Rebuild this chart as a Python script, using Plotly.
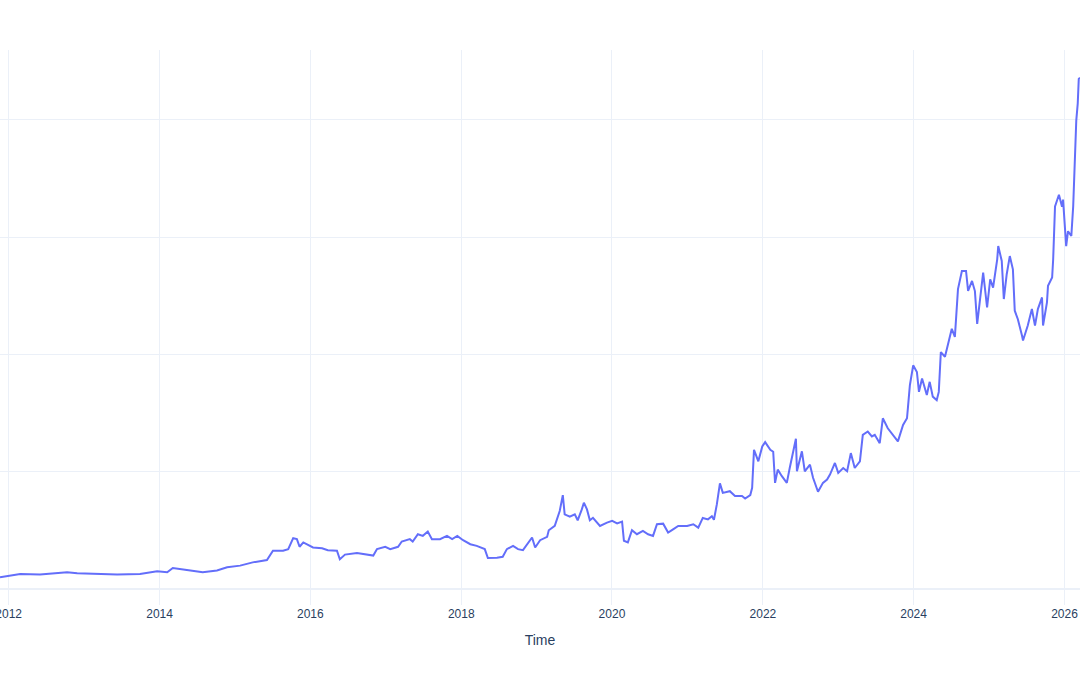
import plotly.graph_objects as go

dates = [
    "2011-11-20", "2012-01-08", "2012-02-26", "2012-06-01", "2012-10-10", "2012-11-28",
    "2013-03-18", "2013-06-09", "2013-09-28", "2013-12-20",
    "2014-02-07", "2014-03-06", "2014-05-13", "2014-07-29", "2014-10-06", "2014-11-24",
    "2015-01-26", "2015-03-28", "2015-06-05", "2015-07-04", "2015-08-22", "2015-09-16",
    "2015-10-10", "2015-10-28", "2015-11-10", "2015-11-28",
    "2016-01-14", "2016-02-27", "2016-03-26", "2016-05-09", "2016-05-23", "2016-06-17",
    "2016-08-14", "2016-10-02", "2016-11-01", "2016-11-19", "2016-12-29",
    "2017-01-22", "2017-03-01", "2017-03-19", "2017-04-27", "2017-05-11", "2017-06-05",
    "2017-06-29", "2017-07-23", "2017-08-12", "2017-09-20", "2017-10-24", "2017-11-18",
    "2017-12-13",
    "2018-01-10", "2018-02-14", "2018-03-17", "2018-04-25", "2018-05-10", "2018-06-23",
    "2018-07-21", "2018-08-10", "2018-09-09", "2018-10-03", "2018-10-27", "2018-12-10",
    "2018-12-25",
    "2019-01-18", "2019-02-21", "2019-03-01", "2019-03-30", "2019-04-23", "2019-05-08",
    "2019-05-17", "2019-06-11", "2019-07-05", "2019-07-19", "2019-08-08", "2019-08-18",
    "2019-09-02", "2019-09-16", "2019-10-01", "2019-11-04", "2019-12-08",
    "2020-01-02", "2020-01-26", "2020-02-19", "2020-02-28", "2020-03-18", "2020-04-07",
    "2020-05-01", "2020-05-30", "2020-06-24", "2020-07-18", "2020-08-06", "2020-09-05",
    "2020-09-29", "2020-10-23", "2020-11-17", "2020-12-30",
    "2021-01-29", "2021-02-22", "2021-03-16", "2021-04-10", "2021-04-29", "2021-05-09",
    "2021-05-23", "2021-06-07", "2021-06-21", "2021-07-25", "2021-08-19", "2021-09-22",
    "2021-10-07", "2021-11-01", "2021-11-10", "2021-11-19", "2021-12-10", "2021-12-29",
    "2022-01-12", "2022-02-06", "2022-02-20", "2022-03-01", "2022-03-14", "2022-04-03",
    "2022-04-27", "2022-05-11", "2022-05-26", "2022-06-10", "2022-06-15", "2022-07-09",
    "2022-07-23", "2022-08-17", "2022-09-01", "2022-09-25", "2022-10-19", "2022-11-08",
    "2022-11-22", "2022-12-16",
    "2023-01-01", "2023-01-25", "2023-02-13", "2023-03-03", "2023-03-22", "2023-04-16",
    "2023-04-30", "2023-05-24", "2023-06-13", "2023-06-27", "2023-07-21", "2023-08-05",
    "2023-08-29", "2023-09-23", "2023-10-17", "2023-11-11", "2023-11-30", "2023-12-05",
    "2023-12-14", "2023-12-30",
    "2024-01-17", "2024-01-27", "2024-02-11", "2024-03-05", "2024-03-19", "2024-04-03",
    "2024-04-22", "2024-05-02", "2024-05-12", "2024-06-01", "2024-06-15", "2024-07-04",
    "2024-07-19", "2024-08-03", "2024-08-22", "2024-09-11", "2024-09-21", "2024-10-10",
    "2024-10-24", "2024-11-04", "2024-11-18", "2024-12-03", "2024-12-22",
    "2025-01-06", "2025-01-20", "2025-02-09", "2025-02-14", "2025-03-03", "2025-03-13",
    "2025-03-27", "2025-04-11", "2025-04-26", "2025-05-05", "2025-05-20", "2025-06-09",
    "2025-06-14", "2025-07-07", "2025-07-27", "2025-08-11", "2025-08-25", "2025-09-14",
    "2025-09-19", "2025-10-08", "2025-10-13", "2025-11-02", "2025-11-07", "2025-11-16",
    "2025-12-05", "2025-12-20", "2025-12-25",
    "2026-01-09", "2026-01-18", "2026-02-03", "2026-02-12", "2026-02-27", "2026-03-06",
    "2026-03-11", "2026-03-17",
]

values = [
    0.99, 1.13, 1.27, 1.22, 1.41, 1.33,
    1.27, 1.22, 1.27, 1.50,
    1.41, 1.78, 1.61, 1.41, 1.56, 1.84,
    1.98, 2.26, 2.46, 3.25, 3.25, 3.39,
    4.32, 4.24, 3.59, 3.96,
    3.53, 3.47, 3.30, 3.25, 2.52, 2.92,
    3.05, 2.92, 2.84, 3.39, 3.59,
    3.39, 3.59, 4.04, 4.24, 4.04, 4.66,
    4.52, 4.89, 4.24, 4.24, 4.52, 4.24,
    4.52,
    4.15, 3.81, 3.67, 3.39, 2.63, 2.66,
    2.74, 3.39, 3.67, 3.39, 3.30, 4.38,
    3.53,
    4.15, 4.43, 5.00, 5.37, 6.64, 8.00,
    6.36, 6.15, 6.36, 5.85, 6.78, 7.35,
    6.78, 5.85, 6.06, 5.37, 5.65,
    5.80, 5.59, 5.74, 4.10, 3.96, 5.00,
    4.66, 4.94, 4.66, 4.52, 5.51, 5.56,
    4.80, 5.08, 5.37, 5.37,
    5.51, 5.22, 6.05, 5.93, 6.20, 5.90,
    7.20, 9.00, 8.19, 8.33, 7.92, 7.92,
    7.71, 8.00, 8.62, 11.86, 10.88, 12.15,
    12.52, 11.86, 11.70, 9.04, 10.17, 9.61,
    9.04, 10.31, 11.58, 12.80, 10.03, 11.73,
    10.03, 10.59, 9.47, 8.28, 9.04, 9.32,
    9.75, 10.74,
    9.89, 10.31, 10.03, 11.58, 10.31, 10.88,
    13.14, 13.42, 13.00, 13.14, 12.43, 14.55,
    13.70, 13.14, 12.58, 13.98, 14.55, 15.54,
    17.37, 19.07,
    18.50, 16.81, 17.94, 16.53, 17.66, 16.40,
    16.10, 16.80, 20.20, 19.80, 20.76, 22.18,
    21.50, 25.57, 27.12, 27.12, 25.42, 26.27,
    25.40, 22.60, 24.72, 26.98, 24.00,
    26.40, 25.70, 28.11, 29.24, 27.97, 24.72,
    26.84, 28.39, 27.26, 23.73, 23.00, 21.61,
    21.19, 22.46, 23.87, 22.46, 23.87, 24.86,
    22.46, 24.44, 25.85, 26.56, 28.10, 32.63,
    33.62, 32.60, 33.20,
    29.24, 30.51, 30.10, 32.63, 39.97, 41.39,
    43.50, 43.60,
]

fig = go.Figure(
    go.Scatter(x=dates, y=values, mode="lines", line=dict(color="#636efa", width=2))
)
fig.update_layout(
    template="plotly_white",
    width=1080,
    height=675,
    font=dict(family="Arial"),
    margin=dict(l=0, r=0, t=50, b=70),
    showlegend=False,
    xaxis=dict(title=dict(text="Time"), automargin=False, ticklabeloverflow="allow"),
    yaxis=dict(showticklabels=False, automargin=False, dtick=10),
)
fig.write_html("out.html")
